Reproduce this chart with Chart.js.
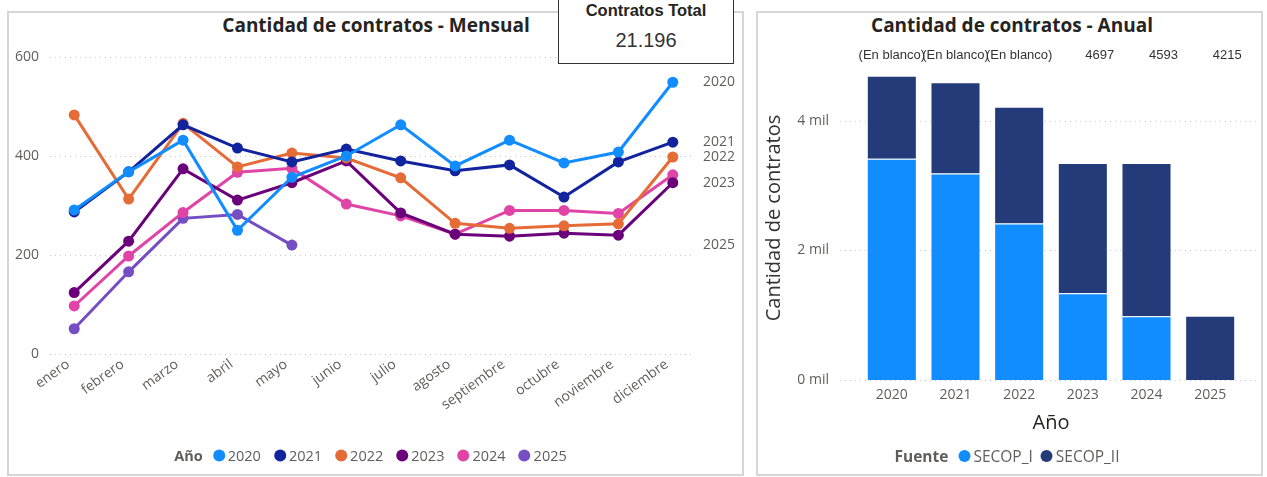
<!DOCTYPE html>
<html><head><meta charset="utf-8">
<script src="https://cdn.jsdelivr.net/npm/chart.js@4.4.1/dist/chart.umd.min.js"></script>
<style>
html,body{margin:0;padding:0;background:#fff;width:1267px;height:477px;overflow:hidden;font-family:"Open Sans",sans-serif;}
.panel{position:absolute;box-sizing:border-box;border:2px solid #d6d6d6;background:#fff;}
#p1{left:7px;top:11px;width:737px;height:465px;}
#p2{left:756px;top:11px;width:507px;height:465px;}
.title{position:absolute;font-weight:700;font-size:19px;color:#252423;white-space:nowrap;transform:translate(-50%,-50%);}
.cwrap{position:absolute;}
.legend{position:absolute;display:flex;align-items:center;transform:translate(-50%,-50%);white-space:nowrap;font-size:14.5px;color:#605e5c;}
.legend b{color:#605e5c;margin-right:10px;}
.legend .dot{display:inline-block;width:12px;height:12px;border-radius:50%;margin-right:3px;}
.legend .it{display:flex;align-items:center;margin-right:13px;}
#leg2{font-size:15.5px;}
#leg2 .it{margin-right:8px;}
#kpi{position:absolute;left:558px;top:-3px;width:176px;height:67px;box-sizing:border-box;border:1.5px solid #333;background:#fff;font-family:"Liberation Sans",Arial,sans-serif;text-align:center;}
#kpi .h{position:absolute;left:0;right:0;top:3px;font-weight:700;font-size:16.5px;color:#252423;}
#kpi .v{position:absolute;left:0;right:0;top:31px;font-size:20px;color:#333;}
</style></head>
<body>
<div class="panel" id="p1"></div>
<div class="panel" id="p2"></div>
<div class="title" style="left:376px;top:25px;">Cantidad de contratos - Mensual</div>
<div class="title" style="left:1012px;top:25px;">Cantidad de contratos - Anual</div>
<div class="cwrap" style="left:9px;top:13px;width:733px;height:460px;"><canvas id="c1" width="733" height="460"></canvas></div>
<div class="cwrap" style="left:758px;top:13px;width:502px;height:460px;"><canvas id="c2" width="502" height="460"></canvas></div>
<div class="legend" id="leg1" style="left:377px;top:455px;"></div>
<div class="legend" id="leg2" style="left:1011px;top:456px;"></div>
<div id="kpi"><div class="h">Contratos Total</div><div class="v" id="kpiv"></div></div>
<script>
// ---- Data ----
const months = ["enero","febrero","marzo","abril","mayo","junio","julio","agosto","septiembre","octubre","noviembre","diciembre"];
const years = ["2020","2021","2022","2023","2024","2025"];
const v2020 = [291, 368, 432, 250, 357, 400, 463, 380, 432, 386, 408, 549];
const v2021 = [287, 368, 463, 416, 388, 414, 390, 370, 382, 317, 388, 428];
const v2022 = [483, 313, 466, 378, 406, 396, 356, 264, 254, 259, 263, 398];
const v2023 = [124, 228, 374, 311, 346, 390, 285, 242, 238, 244, 240, 346];
const v2024 = [97, 198, 286, 367, 375, 303, 279, 242, 290, 290, 284, 362];
const v2025 = [51, 166, 274, 282, 220];
const yearColors = ["#118DFF","#12239E","#E66C37","#6B007B","#E044A7","#744EC2"];
const monthlyTicks = [0, 200, 400, 600];

const barYears = ["2020","2021","2022","2023","2024","2025"];
const secopI  = [3415, 3185, 2415, 1338, 985, 0];
const secopII = [1282, 1408, 1800, 2011, 2364, 993];
const topLabels = ["(En blanco)","(En blanco)","(En blanco)","4697","4593","4215"];
const annualTicks = [0, 2000, 4000];
const fuentes = ["SECOP_I","SECOP_II"];
const fuenteColors = ["#118DFF","#233B78"];
const kpiTotal = 21196;

// ---- KPI ----
document.getElementById('kpiv').textContent = kpiTotal.toLocaleString('de-DE');

// ---- Legends ----
function buildLegend(id, title, names, colors){
  const el = document.getElementById(id);
  const b = document.createElement('b'); b.textContent = title; el.appendChild(b);
  names.forEach((n,i)=>{
    const it = document.createElement('span'); it.className='it';
    const d = document.createElement('span'); d.className='dot'; d.style.background=colors[i];
    const t = document.createElement('span'); t.textContent=n;
    it.appendChild(d); it.appendChild(t); el.appendChild(it);
  });
}
buildLegend('leg1','Año',years,yearColors);
buildLegend('leg2','Fuente',fuentes,fuenteColors);

const FONT = '"Open Sans", sans-serif';

const dottedGrid = {
  id:'dottedGrid',
  beforeDatasetsDraw(chart, args, opts){
    const {ctx, chartArea} = chart;
    const ys = chart.scales.y;
    ctx.save();
    ctx.strokeStyle = '#c8c8c8';
    ctx.lineWidth = 1;
    ctx.setLineDash([1,4]);
    ys.ticks.forEach(t=>{
      const y = Math.round(ys.getPixelForValue(t.value))+0.5;
      ctx.beginPath();
      ctx.moveTo(chartArea.left + opts.l, y);
      ctx.lineTo(chartArea.right + opts.r, y);
      ctx.stroke();
    });
    ctx.restore();
  }
};

const endLabels = {
  id:'endLabels',
  afterDatasetsDraw(chart){
    const {ctx, chartArea} = chart;
    const ys = chart.scales.y;
    ctx.save();
    ctx.font = '14px ' + FONT;
    ctx.fillStyle = '#605e5c';
    ctx.textAlign = 'left';
    ctx.textBaseline = 'middle';
    const placed = [];
    chart.data.datasets.forEach(ds=>{
      const last = ds.data[ds.data.length-1];
      const y = ys.getPixelForValue(last);
      if (placed.some(p=>Math.abs(p-y) < 14)) return;
      placed.push(y);
      ctx.fillText(ds.label, chartArea.right + 3, y);
    });
    ctx.restore();
  }
};

const series = [v2020, v2021, v2022, v2023, v2024, v2025];
new Chart(document.getElementById('c1'), {
  type:'line',
  data:{
    labels: months,
    datasets: series.map((d,i)=>({
      label: years[i], data: d,
      borderColor: yearColors[i], backgroundColor: yearColors[i],
      borderWidth: 3, pointRadius: 5.5, pointHoverRadius: 5.5,
      pointBackgroundColor: yearColors[i], pointBorderWidth: 0,
      tension: 0
    }))
  },
  options:{
    responsive:false, animation:false, devicePixelRatio:1,
    layout:{padding:{top:44, right:42, left:0, bottom:0}},
    plugins:{legend:{display:false}, tooltip:{enabled:false}, dottedGrid:{l:3, r:-7}},
    scales:{
      x:{
        offset:true,
        grid:{display:false, drawTicks:false}, border:{display:false},
        ticks:{color:'#605e5c', font:{family:FONT, size:14}, minRotation:36, maxRotation:36, padding:2, labelOffset:-6, autoSkip:false},
        afterFit(s){ s.height = 119; }
      },
      y:{
        min:0, max:600,
        afterBuildTicks(s){ s.ticks = monthlyTicks.map(v=>({value:v})); },
        grid:{display:false, drawTicks:false}, border:{display:false},
        ticks:{color:'#605e5c', font:{family:FONT, size:14}, padding:8},
        afterFit(s){ s.width = 38; }
      }
    }
  },
  plugins:[dottedGrid, endLabels]
});

const topText = {
  id:'topText',
  afterDatasetsDraw(chart){
    const {ctx, chartArea} = chart;
    const xs = chart.scales.x;
    ctx.save();
    ctx.font = '13px "Liberation Sans", Arial, sans-serif';
    ctx.fillStyle = '#333';
    ctx.textBaseline = 'middle';
    ctx.textAlign = 'center';
    topLabels.forEach((t,i)=>{
      const x = xs.getPixelForValue(i);
      const shift = isNaN(Number(t)) ? 0 : 17;
      ctx.fillText(t, x + shift, chartArea.top - 1);
    });
    ctx.restore();
  }
};

new Chart(document.getElementById('c2'), {
  type:'bar',
  data:{
    labels: barYears,
    datasets:[
      {label:fuentes[0], data:secopI, backgroundColor:fuenteColors[0], borderColor:'rgba(255,255,255,0.35)', borderWidth:1, categoryPercentage:1, barPercentage:0.786},
      {label:fuentes[1], data:secopII, backgroundColor:fuenteColors[1], borderColor:'rgba(255,255,255,0.35)', borderWidth:1, categoryPercentage:1, barPercentage:0.786}
    ]
  },
  options:{
    responsive:false, animation:false, devicePixelRatio:1,
    layout:{padding:{top:43, right:18, left:0, bottom:34}},
    plugins:{legend:{display:false}, tooltip:{enabled:false}, dottedGrid:{l:-20, r:19}},
    scales:{
      x:{
        stacked:true,
        grid:{display:false, drawTicks:false}, border:{display:false},
        ticks:{color:'#605e5c', font:{family:FONT, size:14}, padding:7},
        title:{display:true, text:'Año', color:'#252423', font:{family:FONT, size:20}},
        afterFit(s){ s.height = 59; }
      },
      y:{
        stacked:true, min:0, max:5000,
        afterBuildTicks(s){ s.ticks = annualTicks.map(v=>({value:v})); },
        ticks:{color:'#605e5c', font:{family:FONT, size:14}, padding:31,
          callback:(v)=> (v/1000) + ' mil'},
        grid:{display:false, drawTicks:false}, border:{display:false},
        title:{display:true, text:'Cantidad de contratos', color:'#333', font:{family:FONT, size:20}},
        afterFit(s){ s.width = 102; }
      }
    }
  },
  plugins:[dottedGrid, topText]
});
</script>
</body></html>
